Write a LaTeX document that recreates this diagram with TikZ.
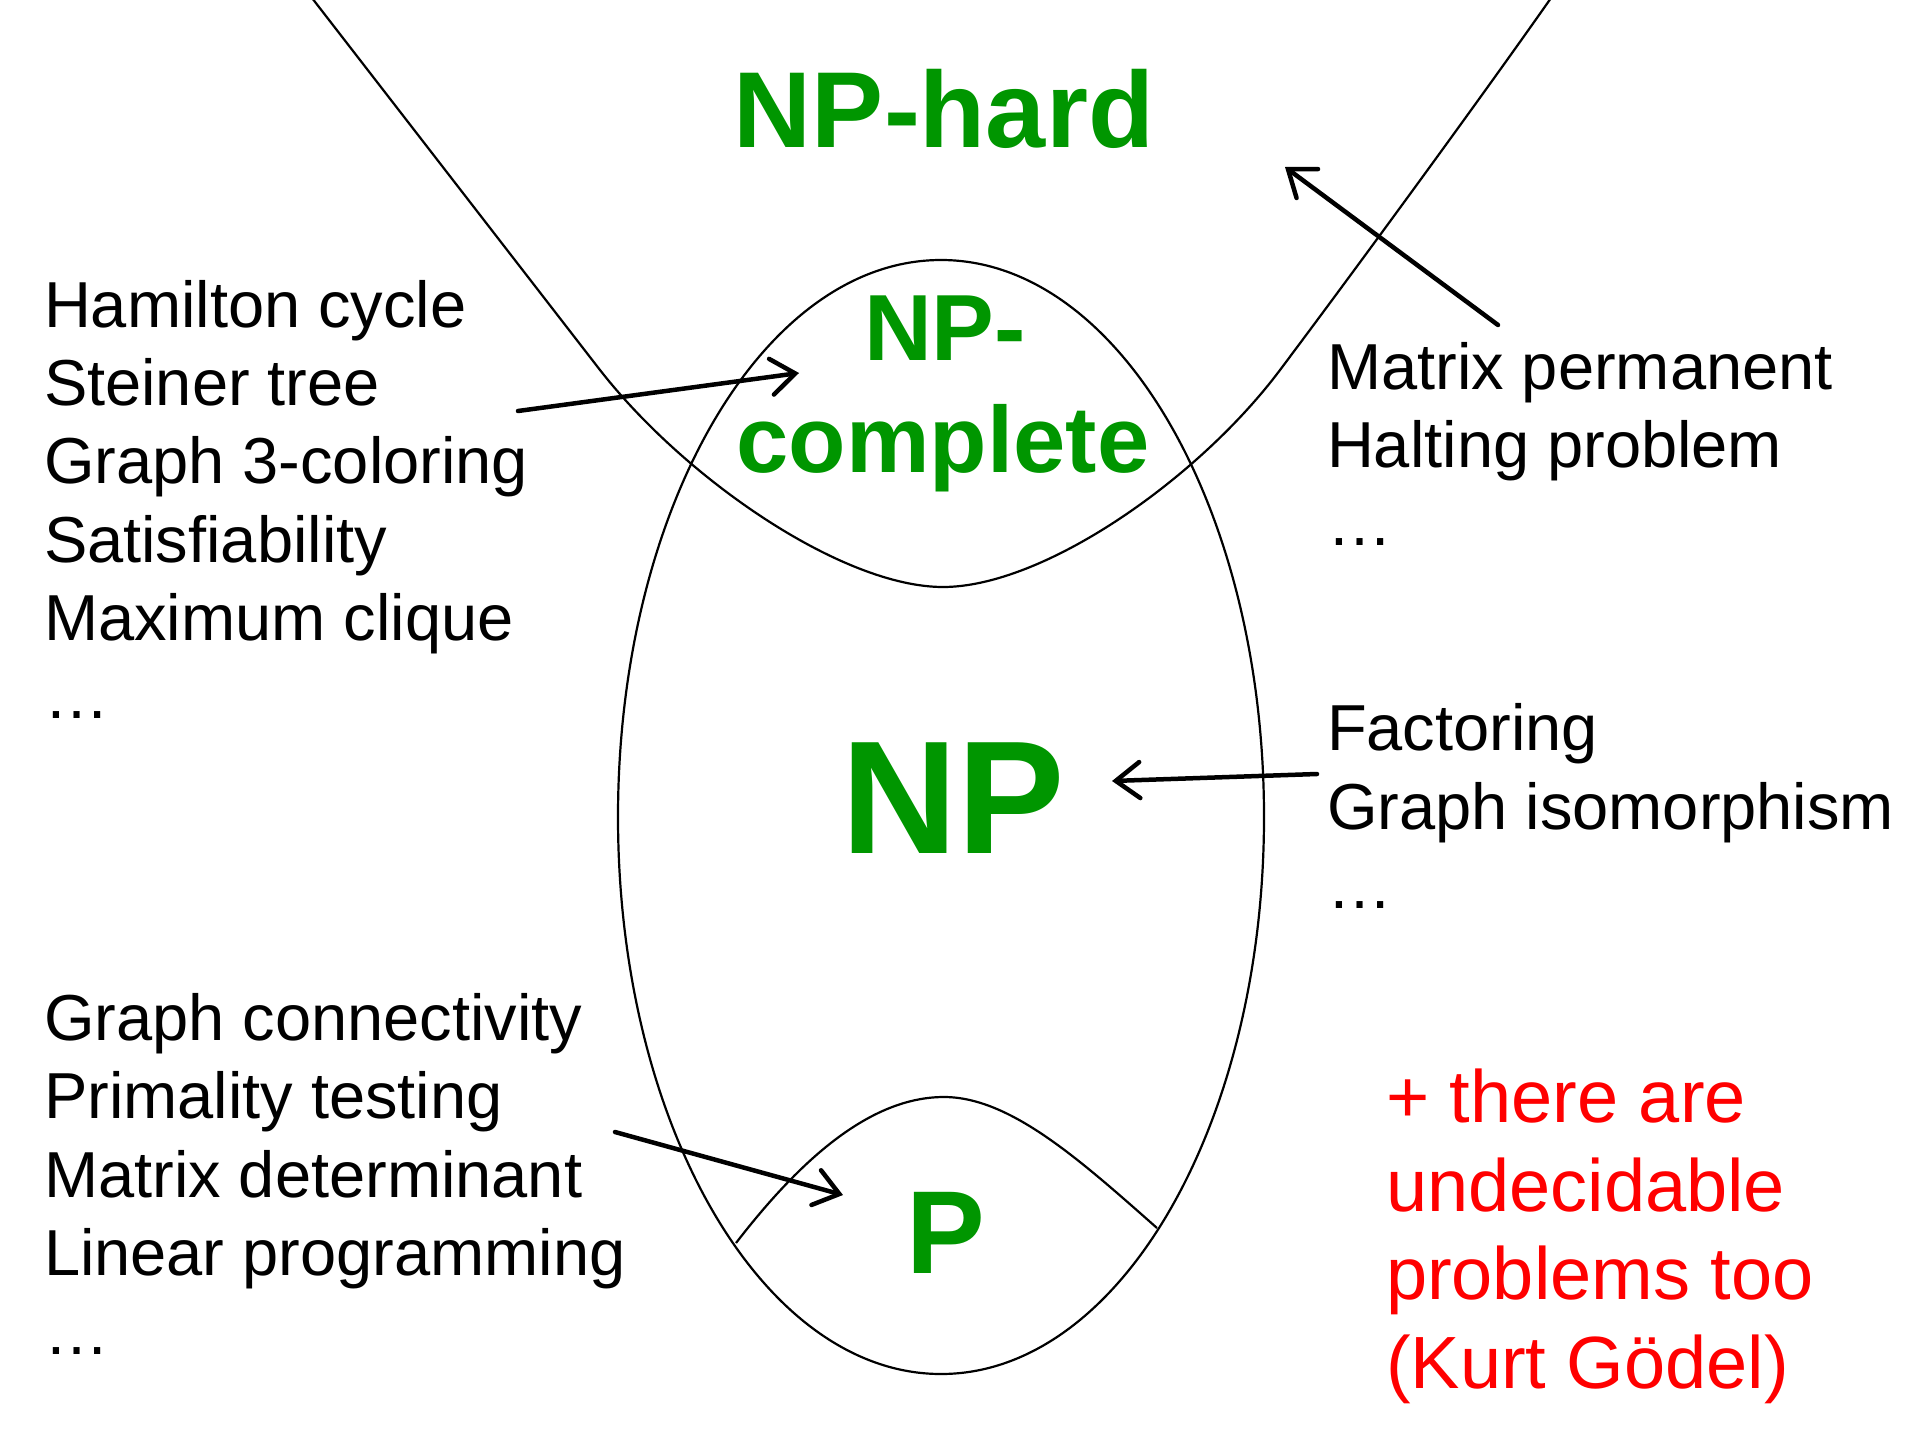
\documentclass[tikz,border=0pt]{standalone}
\usepackage{fontspec}
\setmainfont{Liberation Sans}
\usetikzlibrary{arrows.meta,shapes.geometric}
\definecolor{npgreen}{RGB}{0,150,0}
\definecolor{notered}{RGB}{255,0,0}
\begin{document}
\begin{tikzpicture}[x=1pt,y=-1pt,
  item/.style={anchor=base west, inner sep=0pt, outer sep=0pt, font=\fontsize{65}{78}\selectfont},
  cls/.style={anchor=base, inner sep=0pt, outer sep=0pt, text=npgreen},
  note/.style={anchor=base west, inner sep=0pt, outer sep=0pt, text=notered, font=\fontsize{74}{88}\selectfont},
  region/.style={line width=2.2pt, draw=black},
  link/.style={line width=4.5pt, line cap=round, -{Straight Barb[length=24pt,width=36pt,line cap=round]}}]
\useasboundingbox (0,0) rectangle (1920,1440);
\fill[white] (0,0) rectangle (1920,1440);
\begin{scope}
\clip (0,0) rectangle (1920,1440);
% NP region
\node[ellipse, region, minimum width=646pt, minimum height=1114pt, inner sep=0pt] (npset) at (941,817) {};
% NP-hard boundary
\draw[region] (312,-2) -- (600,370) .. controls (686,480) and (843,587) .. (943,587)
  .. controls (1043,587) and (1197.5,480) .. (1280,370)
  .. controls (1355,270) and (1479.5,100) .. (1551,-2);
% P boundary
\draw[region] (736,1243) .. controls (800,1160) and (870,1097) .. (944,1097)
  .. controls (1010,1097) and (1080,1160) .. (1157,1228);
\end{scope}
% class labels
\node[cls, font=\fontsize{108}{120}\selectfont\bfseries] (nphard) at (944,147) {NP-hard};
\node[cls, font=\fontsize{94}{110}\selectfont\bfseries] (npc1) at (945,360) {NP-};
\node[cls, font=\fontsize{94}{110}\selectfont\bfseries] (npc2) at (943,472) {complete};
\node[cls, font=\fontsize{161}{180}\selectfont\bfseries] (np) at (953,853) {NP};
\node[cls, font=\fontsize{118}{130}\selectfont\bfseries] (p) at (946,1273) {P};
% NP-complete examples
\node[item] (h1) at (44,327) {Hamilton cycle};
\node[item] (h2) at (44,405) {Steiner tree};
\node[item] (h3) at (44,483) {Graph 3-coloring};
\node[item] (h4) at (44,562) {Satisfiability};
\node[item] (h5) at (44,640) {Maximum clique};
\node[item] (h6) at (44,718) {…};
% P examples
\node[item] (q1) at (44,1040) {Graph connectivity};
\node[item] (q2) at (44,1118) {Primality testing};
\node[item] (q3) at (44,1197) {Matrix determinant};
\node[item] (q4) at (44,1275) {Linear programming};
\node[item] (q5) at (44,1354) {…};
% NP-hard examples
\node[item] (r1) at (1327,389) {Matrix permanent};
\node[item] (r2) at (1327,467) {Halting problem};
\node[item] (r3) at (1327,545) {…};
% NP examples
\node[item] (s1) at (1327,750) {Factoring};
\node[item] (s2) at (1327,829) {Graph isomorphism};
\node[item] (s3) at (1327,908) {…};
% note
\node[note] (n1) at (1386,1122) {+ there are};
\node[note] (n2) at (1386,1211) {undecidable};
\node[note] (n3) at (1386,1299) {problems too};
\node[note] (n4) at (1386,1388) {(Kurt Gödel)};
% arrows
\coordinate (a1s) at (518,411);  \coordinate (a1e) at (799,373);
\coordinate (a2s) at (1498,325); \coordinate (a2e) at (1285,167);
\coordinate (a3s) at (1317,774); \coordinate (a3e) at (1112,781);
\coordinate (a4s) at (615,1132); \coordinate (a4e) at (843,1195);
\draw[link] (a1s) -- (a1e);
\draw[link] (a2s) -- (a2e);
\draw[link] (a3s) -- (a3e);
\draw[link] (a4s) -- (a4e);
\end{tikzpicture}
\end{document}
